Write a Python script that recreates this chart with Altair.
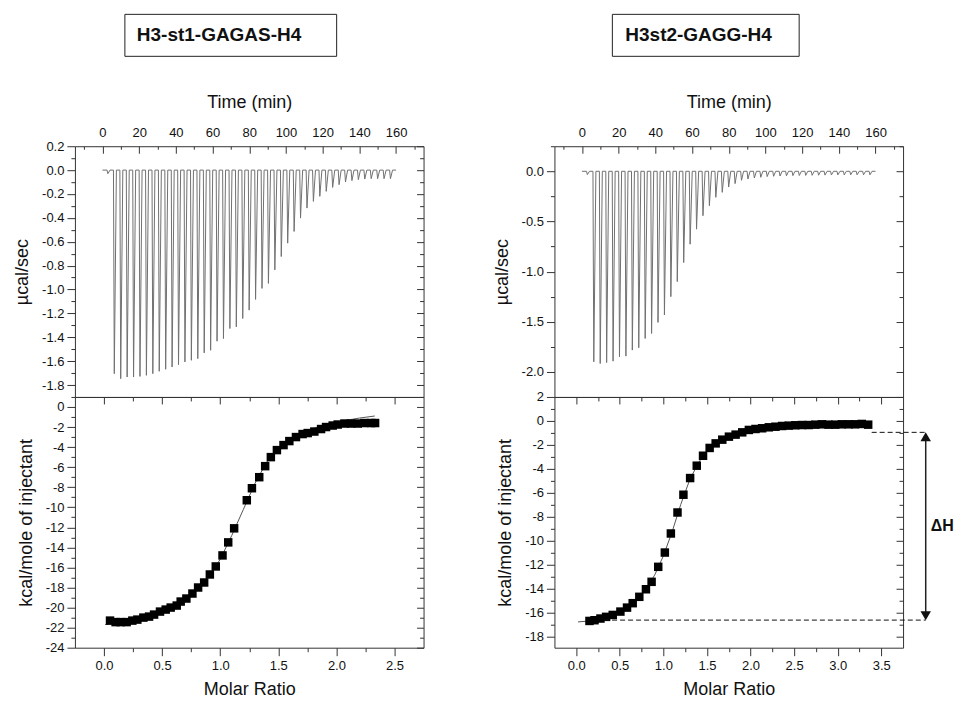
import altair as alt
import pandas as pd

# ---------------- data ----------------
BOX_TITLES = ["H3-st1-GAGAS-H4", "H3st2-GAGG-H4"]
DELTA_H_LABEL = "ΔH"

# injection times (min) of the raw thermograms
INJ_TIME = [2.5, 6.0, 9.5, 13.0, 16.5, 20.0, 23.5, 27.0, 30.5, 34.0, 37.5, 41.0,
            44.5, 48.0, 51.5, 55.0, 58.5, 62.0, 65.5, 69.0, 72.5, 76.0, 79.5, 83.0,
            86.5, 90.0, 93.5, 97.0, 100.5, 104.0, 107.5, 111.0, 114.5, 118.0, 121.5,
            125.0, 128.5, 132.0, 135.5, 139.0, 142.5, 146.0, 149.5, 153.0, 156.5]
# peak heights (µcal/sec)
L_PEAK = [-0.03, -1.705, -1.747, -1.733, -1.733, -1.728, -1.719, -1.705, -1.685, -1.668,
          -1.649, -1.630, -1.607, -1.593, -1.579, -1.531, -1.509, -1.433, -1.411, -1.327,
          -1.313, -1.243, -1.173, -1.083, -0.991, -0.949, -0.836, -0.724, -0.612, -0.514,
          -0.402, -0.318, -0.262, -0.220, -0.178, -0.145, -0.122, -0.100, -0.088, -0.080,
          -0.075, -0.072, -0.072, -0.072, -0.072]
R_PEAK = [-0.033, -1.90, -1.917, -1.907, -1.893, -1.85, -1.843, -1.783, -1.76, -1.667,
          -1.617, -1.507, -1.433, -1.25, -1.10, -0.91, -0.727, -0.577, -0.443, -0.343,
          -0.26, -0.21, -0.157, -0.123, -0.09, -0.077, -0.067, -0.06, -0.053, -0.05,
          -0.047, -0.045, -0.043, -0.042, -0.041, -0.040, -0.039, -0.038, -0.037, -0.036,
          -0.036, -0.035, -0.035, -0.035, -0.035]

# integrated heats (kcal/mole of injectant) vs molar ratio
L_MR = [0.052, 0.100, 0.143, 0.195, 0.244, 0.287, 0.339, 0.388, 0.431, 0.482,
        0.531, 0.574, 0.626, 0.660, 0.709, 0.761, 0.810, 0.862, 0.911, 0.962,
        1.020, 1.069, 1.120, 1.229, 1.273, 1.336, 1.387, 1.436, 1.488, 1.545,
        1.595, 1.652, 1.709, 1.753, 1.810, 1.868, 1.911, 1.968, 2.011, 2.069,
        2.126, 2.184, 2.241, 2.299, 2.333]
L_DH = [-21.3, -21.45, -21.45, -21.45, -21.3, -21.2, -21.0, -20.9, -20.7, -20.4,
        -20.2, -20.0, -19.8, -19.4, -19.1, -18.6, -18.0, -17.5, -16.7, -15.9,
        -14.8, -13.5, -12.1, -9.3, -8.1, -7.0, -5.9, -5.0, -4.3, -3.8,
        -3.4, -3.0, -2.7, -2.6, -2.45, -2.2, -2.0, -1.85, -1.75, -1.65,
        -1.65, -1.65, -1.6, -1.6, -1.6]
L_FIT_MR = [0.01, 0.1, 0.2, 0.3, 0.4, 0.5, 0.6, 0.7, 0.8, 0.9, 1.0, 1.1, 1.2, 1.3,
            1.4, 1.5, 1.6, 1.7, 1.8, 1.9, 2.0, 2.1, 2.2, 2.33]
L_FIT_DH = [-21.7, -21.55, -21.4, -21.15, -20.8, -20.35, -19.8, -19.1, -18.1, -16.9,
            -15.2, -12.8, -10.2, -7.6, -5.5, -4.1, -3.2, -2.6, -2.15, -1.8, -1.5,
            -1.3, -1.1, -0.9]

R_MR = [0.152, 0.210, 0.278, 0.343, 0.419, 0.507, 0.583, 0.648, 0.724, 0.800,
        0.865, 0.941, 1.017, 1.086, 1.162, 1.230, 1.307, 1.383, 1.455, 1.531,
        1.600, 1.676, 1.752, 1.829, 1.905, 1.981, 2.057, 2.133, 2.210, 2.286,
        2.362, 2.438, 2.514, 2.590, 2.667, 2.743, 2.819, 2.895, 2.971, 3.048,
        3.124, 3.200, 3.276, 3.350]
R_DH = [-16.67, -16.61, -16.47, -16.33, -16.17, -15.89, -15.56, -15.19, -14.66, -14.03,
        -13.41, -12.16, -10.97, -9.38, -7.63, -6.15, -4.76, -3.73, -2.90, -2.25,
        -1.87, -1.56, -1.31, -1.14, -0.95, -0.75, -0.67, -0.61, -0.53, -0.48,
        -0.42, -0.39, -0.36, -0.34, -0.34, -0.31, -0.28, -0.31, -0.31, -0.28,
        -0.28, -0.28, -0.25, -0.31]
R_FIT_MR = [0.02, 0.15, 0.3, 0.4, 0.5, 0.6, 0.7, 0.8, 0.9, 1.0, 1.1, 1.2, 1.3, 1.4,
            1.5, 1.6, 1.8, 2.0, 2.3, 2.6, 3.0, 3.35]
R_FIT_DH = [-16.75, -16.68, -16.45, -16.2, -15.9, -15.45, -14.8, -14.0, -12.85, -11.25,
            -9.25, -6.95, -4.95, -3.5, -2.5, -1.85, -1.15, -0.8, -0.55, -0.42, -0.33, -0.28]

# ΔH annotation levels (kcal/mol)
DH_TOP = -0.95
DH_BOT = -16.6

# ---------------- styling ----------------
FONT = "Liberation Sans"
W, H = 349, 251
INK = "#333333"
MINUS = "\u2212"


def tickvals(lo, hi, step):
    n = int(round((hi - lo) / step))
    return [round(lo + i * step, 4) for i in range(n + 1)]


def is_major(step):
    return f"abs(datum.value / {step} - round(datum.value / {step})) < 0.001"


def tsize(step, big=8, small=4):
    return {"condition": {"test": is_major(step), "value": big}, "value": small}


def lab_expr(step):
    return f"{is_major(step)} ? replace(datum.label, '{MINUS}', '-') : ''"


def spike_table(times, peaks, t_end=160.0):
    ts, vs = [0.0], [0.0]
    for t, p in zip(times, peaks):
        ts += [t, t + 0.45, t + 1.6]
        vs += [0.0, p, 0.0]
    ts.append(t_end)
    vs.append(0.0)
    return pd.DataFrame({"t": ts, "v": vs, "o": list(range(len(ts)))})


def top_panel(times, peaks, ydom, yvals, ystep, yfmt, title, bx0, bx1, tx):
    df = spike_table(times, peaks)
    xs = alt.Scale(domain=[-15, 175], nice=False, zero=False)
    ys = alt.Scale(domain=ydom, nice=False, zero=False)
    tv = tickvals(-10, 170, 10)
    line = alt.Chart(df).mark_line(color="#707070", strokeWidth=1).encode(
        x=alt.X("t:Q", scale=xs, axis=alt.Axis(
            orient="top", title="Time (min)", values=tv, format="d",
            labelExpr=lab_expr(20), ticks=False, tickSize=0, domain=False,
            labelPadding=7, titlePadding=15, grid=False, labelOverlap=False,
            labelFlush=False)),
        y=alt.Y("v:Q", scale=ys, axis=alt.Axis(
            orient="left", title="µcal/sec", values=yvals, format=yfmt,
            labelExpr=lab_expr(ystep), tickSize=tsize(ystep), domain=False,
            labelPadding=3, titlePadding=10, grid=False, labelOverlap=False,
            labelFlush=False)),
        order=alt.Order("o:Q"),
    )
    mirror = alt.Chart(df).mark_line(strokeOpacity=0).encode(
        x=alt.X("t:Q", scale=xs, axis=alt.Axis(
            orient="bottom", offset=-H, values=tv, labels=False,
            tickSize=tsize(20, 7, 3), domain=False, title=None, grid=False)),
        y=alt.Y("v:Q", scale=ys, axis=alt.Axis(
            orient="left", offset=-W, values=yvals, labels=False,
            tickSize=tsize(ystep, 7, 4), domain=False, title=None, grid=False)),
        order=alt.Order("o:Q"),
    )
    bdf = pd.DataFrame({"label": [title]})
    rect = alt.Chart(bdf).mark_rect(fill="white", stroke="#222222", strokeWidth=1).encode(
        x=alt.value(bx0), x2=alt.value(bx1), y=alt.value(-132), y2=alt.value(-90))
    txt = alt.Chart(bdf).mark_text(
        align="left", baseline="middle", font=FONT, fontSize=19,
        fontWeight="bold", color="#111111").encode(
        x=alt.value(tx), y=alt.value(-111), text="label:N")
    return alt.layer(line, mirror, rect, txt).resolve_axis(
        x="independent", y="independent").properties(width=W, height=H)


def bottom_panel(mr, dh, fmr, fdh, xdom, xmax_tick, ydom, ylo, yhi, extra=None):
    xs = alt.Scale(domain=xdom, nice=False, zero=False)
    ys = alt.Scale(domain=ydom, nice=False, zero=False)
    xv = tickvals(0, xmax_tick, 0.25)
    yv = tickvals(ylo, yhi, 1)
    fit_df = pd.DataFrame({"mr": fmr, "dh": fdh})
    pts_df = pd.DataFrame({"mr": mr, "dh": dh})
    fit = alt.Chart(fit_df).mark_line(color="#555555", strokeWidth=1).encode(
        x=alt.X("mr:Q", scale=xs, axis=alt.Axis(
            orient="bottom", offset=-H, values=xv, labels=False,
            tickSize=tsize(0.5, 7, 4), domain=False, title=None, grid=False)),
        y=alt.Y("dh:Q", scale=ys, axis=alt.Axis(
            orient="left", offset=-W, values=yv, labels=False,
            tickSize=tsize(2, 7, 4), domain=False, title=None, grid=False)),
    )
    pts = alt.Chart(pts_df).mark_square(size=72, color="#000000", opacity=1).encode(
        x=alt.X("mr:Q", scale=xs, axis=alt.Axis(
            orient="bottom", title="Molar Ratio", values=xv, format=".1f",
            labelExpr=lab_expr(0.5), tickSize=tsize(0.5), domain=False,
            labelPadding=4, titlePadding=8, grid=False, labelOverlap=False,
            labelFlush=False)),
        y=alt.Y("dh:Q", scale=ys, axis=alt.Axis(
            orient="left", title="kcal/mole of injectant", values=yv, format="d",
            labelExpr=lab_expr(2), tickSize=tsize(2), domain=False,
            labelPadding=3, titlePadding=10, grid=False, labelOverlap=False,
            labelFlush=False)),
    )
    layers = [fit, pts]
    if extra is not None:
        layers += extra(xs, ys)
    return alt.layer(*layers).resolve_axis(
        x="independent", y="independent").properties(width=W, height=H)


def delta_h_layers(xs, ys):
    xa = 4.01
    dash_df = pd.DataFrame({"x": [3.39, 0.32], "x2": [xa, xa], "y": [DH_TOP, DH_BOT]})
    dashes = alt.Chart(dash_df).mark_rule(
        strokeDash=[5, 3], color="#111111", strokeWidth=1).encode(
        x=alt.X("x:Q", scale=xs, axis=None), x2="x2:Q",
        y=alt.Y("y:Q", scale=ys, axis=None))
    y_up = DH_TOP - 0.36
    y_dn = DH_BOT + 0.36
    arr_df = pd.DataFrame({"x": [xa], "y": [y_up], "y2": [y_dn]})
    arrow = alt.Chart(arr_df).mark_rule(color="#222222", strokeWidth=1.5).encode(
        x=alt.X("x:Q", scale=xs, axis=None),
        y=alt.Y("y:Q", scale=ys, axis=None), y2="y2:Q")
    head_df = pd.DataFrame({"x": [xa, xa], "y": [y_up, y_dn],
                            "shape": ["triangle-up", "triangle-down"]})
    heads = alt.Chart(head_df).mark_point(
        filled=True, size=110, color="#111111", opacity=1).encode(
        x=alt.X("x:Q", scale=xs, axis=None),
        y=alt.Y("y:Q", scale=ys, axis=None),
        shape=alt.Shape("shape:N", scale=None))
    lab_df = pd.DataFrame({"x": [4.2], "y": [(DH_TOP + DH_BOT) / 2], "t": [DELTA_H_LABEL]})
    lab = alt.Chart(lab_df).mark_text(
        font=FONT, fontSize=16, fontWeight="bold", color="#111111",
        align="center", baseline="middle").encode(
        x=alt.X("x:Q", scale=xs, axis=None),
        y=alt.Y("y:Q", scale=ys, axis=None), text="t:N")
    return [dashes, arrow, heads, lab]


top_l = top_panel(INJ_TIME, L_PEAK, [-1.9, 0.2], tickvals(-1.8, 0.2, 0.1), 0.2, ".1f",
                  BOX_TITLES[0], 50, 262, 62)
top_r = top_panel(INJ_TIME, R_PEAK, [-2.25, 0.25], tickvals(-2.0, 0.25, 0.25), 0.5, ".1f",
                  BOX_TITLES[1], 58, 245, 71)
bot_l = bottom_panel(L_MR, L_DH, L_FIT_MR, L_FIT_DH, [-0.25, 2.75], 2.5, [-24, 1], -24, 1)
bot_r = bottom_panel(R_MR, R_DH, R_FIT_MR, R_FIT_DH, [-0.25, 3.75], 3.5, [-18.9, 2], -18, 2,
                     extra=delta_h_layers)

col_l = alt.vconcat(top_l, bot_l, spacing=0, bounds="flush")
col_r = alt.vconcat(top_r, bot_r, spacing=0, bounds="flush")

chart = alt.hconcat(col_l, col_r, spacing=68, bounds="full").properties(
    padding={"left": 5, "top": 5, "right": 0, "bottom": 0},
    background="white",
).configure_view(
    stroke=INK, strokeWidth=1
).configure_axis(
    labelFont=FONT, labelFontSize=13, labelColor="#111111",
    titleFont=FONT, titleFontSize=18, titleFontWeight="normal", titleColor="#111111",
    tickColor=INK, tickWidth=1,
)

chart.save("out.html", embed_options={"renderer": "svg", "actions": False})
